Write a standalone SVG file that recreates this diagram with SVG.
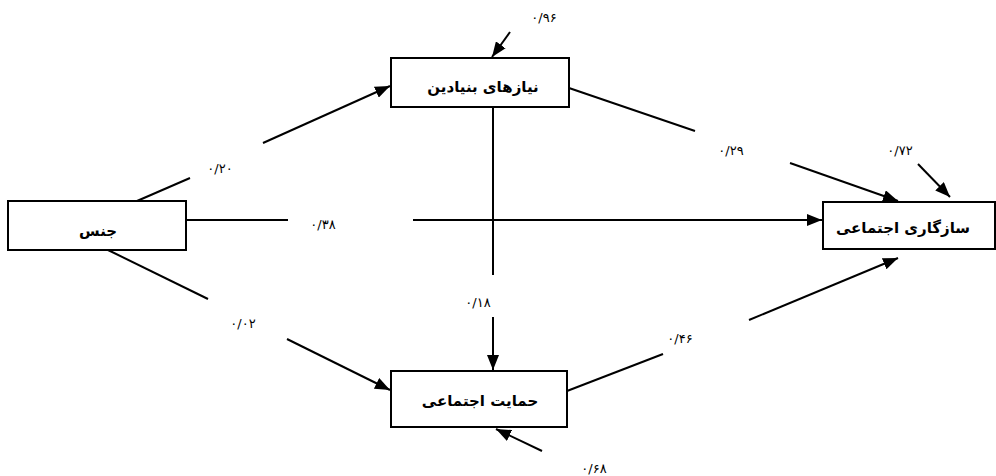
<svg xmlns="http://www.w3.org/2000/svg" width="996" height="476" viewBox="0 0 996 476">
<defs>
<style>
.box{fill:#fff;stroke:#000;stroke-width:2}
.ln{fill:none;stroke:#000;stroke-width:2}
.nt{font-family:"DejaVu Sans",sans-serif;font-weight:bold;font-size:15px;text-anchor:middle;fill:#000}
.lb{font-family:"DejaVu Sans",sans-serif;font-size:13px;text-anchor:middle;fill:#000}
</style>
<marker id="ah" viewBox="0 0 15 12" refX="15" refY="6" markerWidth="15" markerHeight="12" markerUnits="userSpaceOnUse" orient="auto">
<path d="M0,0 L15,6 L0,12 z" fill="#000"/>
</marker>
</defs>
<rect width="996" height="476" fill="#fff"/>
<g id="connectors">
<line class="ln" x1="137" y1="201" x2="190" y2="178"/>
<line class="ln" x1="263" y1="143" x2="390" y2="86" marker-end="url(#ah)"/>
<line class="ln" x1="186" y1="220" x2="288" y2="220"/>
<line class="ln" x1="413" y1="220" x2="822" y2="220" marker-end="url(#ah)"/>
<line class="ln" x1="108" y1="250" x2="208" y2="299"/>
<line class="ln" x1="287" y1="339" x2="390" y2="390" marker-end="url(#ah)"/>
<line class="ln" x1="569" y1="88" x2="695" y2="131"/>
<line class="ln" x1="790" y1="163" x2="898" y2="201" marker-end="url(#ah)"/>
<line class="ln" x1="918" y1="164" x2="950" y2="197" marker-end="url(#ah)"/>
<line class="ln" x1="510" y1="32" x2="492" y2="57" marker-end="url(#ah)"/>
<line class="ln" x1="493" y1="107" x2="493" y2="275"/>
<line class="ln" x1="493" y1="317" x2="493" y2="370" marker-end="url(#ah)"/>
<line class="ln" x1="567" y1="391" x2="663" y2="354"/>
<line class="ln" x1="749" y1="320" x2="898" y2="258" marker-end="url(#ah)"/>
<line class="ln" x1="542" y1="451" x2="496" y2="429" marker-end="url(#ah)"/>
</g>
<g id="labels">
<text class="lb" x="544" y="22">۰/۹۶</text>
<text class="lb" x="220" y="173">۰/۲۰</text>
<text class="lb" x="323" y="229">۰/۳۸</text>
<text class="lb" x="731" y="155">۰/۲۹</text>
<text class="lb" x="900" y="155">۰/۷۲</text>
<text class="lb" x="478" y="307">۰/۱۸</text>
<text class="lb" x="243" y="328">۰/۰۲</text>
<text class="lb" x="680" y="343">۰/۴۶</text>
<text class="lb" x="594" y="473">۰/۶۸</text>
</g>
<g id="node-jens">
<rect class="box" x="8" y="201" width="178" height="49"/>
<text class="nt" x="98" y="236" direction="rtl">جنس</text>
</g>
<g id="node-niazha">
<rect class="box" x="391" y="58" width="178" height="49"/>
<text class="nt" x="483" y="92" direction="rtl">نیازهای بنیادین</text>
</g>
<g id="node-hemayat">
<rect class="box" x="391" y="371" width="176" height="56"/>
<text class="nt" x="480" y="406" direction="rtl">حمایت اجتماعی</text>
</g>
<g id="node-sazgari">
<rect class="box" x="823" y="202" width="172" height="47"/>
<text class="nt" x="903" y="233" direction="rtl">سازگاری اجتماعی</text>
</g>
</svg>
